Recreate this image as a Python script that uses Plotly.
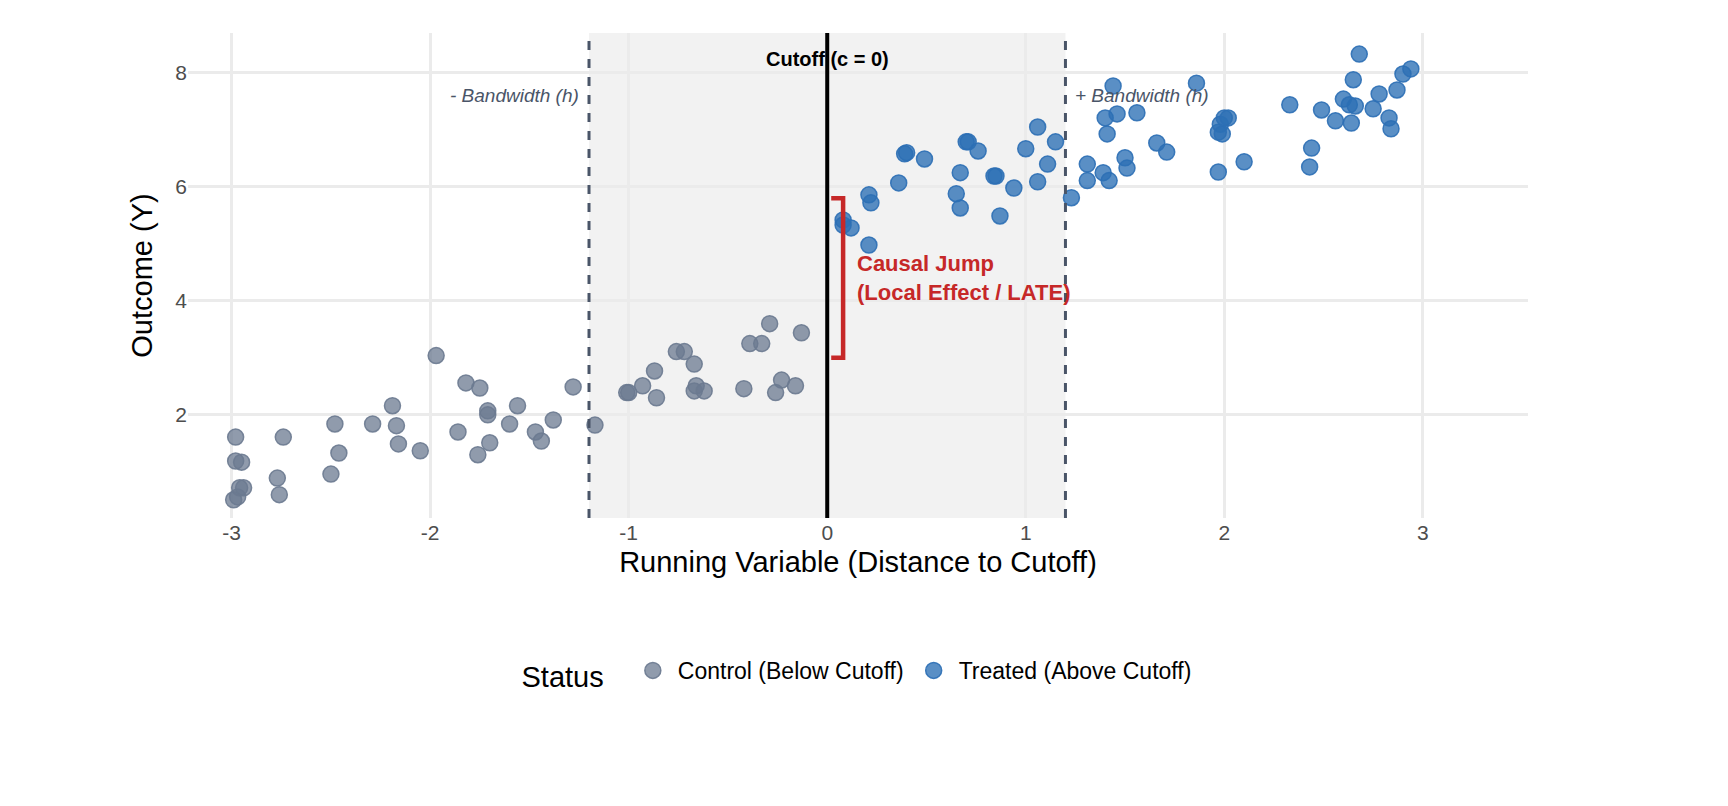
import plotly.graph_objects as go

ctrl_x = [-2.98,-2.98,-2.97,-2.99,-2.96,-2.95,-2.94,-2.77,-2.76,-2.74,-2.50,-2.48,-2.46,-2.29,-2.19,-2.17,-2.16,-2.05,-1.97,-1.86,-1.82,-1.76,-1.75,-1.71,-1.71,-1.70,-1.60,-1.56,-1.47,-1.44,-1.38,-1.28,-1.17,-1.01,-1.00,-0.93,-0.86,-0.87,-0.76,-0.72,-0.67,-0.66,-0.67,-0.62,-0.42,-0.39,-0.33,-0.29,-0.26,-0.23,-0.16,-0.13]
ctrl_y = [1.61,1.19,0.56,0.51,0.72,1.17,0.72,0.89,0.60,1.61,0.96,1.84,1.33,1.84,2.16,1.81,1.49,1.37,3.04,1.70,2.56,1.30,2.47,2.07,2.00,1.51,1.84,2.16,1.70,1.54,1.91,2.49,1.82,2.39,2.39,2.51,2.30,2.77,3.11,3.11,2.89,2.51,2.42,2.42,2.46,3.25,3.25,3.60,2.39,2.61,2.51,3.44]

trt_x = [0.08,0.08,0.12,0.21,0.21,0.22,0.36,0.39,0.40,0.49,0.65,0.67,0.67,0.70,0.71,0.76,0.84,0.85,0.87,0.94,1.00,1.06,1.06,1.11,1.15,1.23,1.31,1.31,1.39,1.40,1.41,1.42,1.44,1.46,1.50,1.51,1.56,1.66,1.71,1.86,1.97,1.97,1.98,1.99,2.00,2.02,2.10,2.33,2.43,2.44,2.49,2.56,2.60,2.63,2.64,2.65,2.66,2.68,2.75,2.78,2.83,2.84,2.87,2.90,2.94]
trt_y = [5.42,5.33,5.28,4.98,5.86,5.72,6.07,6.58,6.60,6.49,5.88,5.63,6.25,6.79,6.79,6.63,6.19,6.19,5.49,5.98,6.67,7.05,6.09,6.40,6.79,5.81,6.11,6.40,6.25,7.21,6.93,6.11,7.77,7.28,6.51,6.33,7.30,6.77,6.61,7.82,6.96,6.26,7.10,6.93,7.21,7.21,6.44,7.44,6.35,6.68,7.35,7.16,7.54,7.44,7.12,7.88,7.42,8.33,7.37,7.63,7.21,7.02,7.70,7.98,8.07]

x_ticks = [-3, -2, -1, 0, 1, 2, 3]
x_labels = ["-3", "-2", "-1", "0", "1", "2", "3"]
y_ticks = [2, 4, 6, 8]

h = 1.2
fig = go.Figure()
fig.add_shape(type="rect", x0=-h, x1=h, y0=0, y1=1, yref="paper", fillcolor="#f2f2f2", line_width=0, layer="below")
for xv in (-h, h):
    fig.add_shape(type="line", x0=xv, x1=xv, y0=0, y1=1, yref="paper", line=dict(color="#4a5568", width=3, dash="dash"))
fig.add_shape(type="line", x0=0, x1=0, y0=0, y1=1, yref="paper", line=dict(color="black", width=4))

fig.add_trace(go.Scatter(x=ctrl_x, y=ctrl_y, mode="markers", name="Control (Below Cutoff)",
    marker=dict(size=16, color="rgba(107,122,144,0.75)", line=dict(width=1.5, color="rgba(107,122,144,0.9)"))))
fig.add_trace(go.Scatter(x=trt_x, y=trt_y, mode="markers", name="Treated (Above Cutoff)",
    marker=dict(size=16, color="rgba(44,111,181,0.78)", line=dict(width=1.5, color="rgba(44,111,181,0.9)"))))

red = "#c62828"
fig.add_shape(type="path", path="M 0.02 5.8 L 0.08 5.8 L 0.08 3.0 L 0.02 3.0", line=dict(color=red, width=4.5))
fig.add_annotation(x=0.14, y=4.4, text="<b>Causal Jump<br>(Local Effect / LATE)</b>", showarrow=False,
    xanchor="left", align="left", font=dict(color=red, size=22, family="Liberation Sans"))
fig.add_annotation(x=0, y=8.25, text="<b>Cutoff (c = 0)</b>", showarrow=False, font=dict(size=20, color="black", family="Liberation Sans"))
fig.add_annotation(x=-h-0.04, y=7.6, text="<i>- Bandwidth (h)</i>", showarrow=False, xanchor="right", font=dict(size=19, color="#4a5568", family="Liberation Sans"))
fig.add_annotation(x=h+0.04, y=7.6, text="<i>+ Bandwidth (h)</i>", showarrow=False, xanchor="left", font=dict(size=19, color="#4a5568", family="Liberation Sans"))

fig.update_layout(
    width=1728, height=806, plot_bgcolor="white", paper_bgcolor="white",
    margin=dict(l=180, r=208, t=25, b=296),
    font=dict(family="Liberation Sans", size=20, color="#4d4d4d"),
    xaxis=dict(range=[-3.22, 3.53], tickvals=x_ticks, ticktext=x_labels, showgrid=True, gridcolor="#ebebeb", gridwidth=2.5,
               zeroline=False, title=dict(text="Running Variable (Distance to Cutoff)", font=dict(size=29, color="black"), standoff=8),
               ticks="", tickfont=dict(size=21, color="#4d4d4d")),
    yaxis=dict(range=[0.19, 8.7], tickvals=y_ticks, showgrid=True, gridcolor="#ebebeb", gridwidth=2.5,
               zeroline=False, title=dict(text="Outcome (Y)", font=dict(size=29, color="black"), standoff=14),
               ticks="", tickfont=dict(size=21, color="#4d4d4d")),
    legend=dict(orientation="h", x=0.5, xanchor="center", y=-0.27, yanchor="top",
                title=dict(text="Status  ", font=dict(size=29, color="black")),
                font=dict(size=23, color="black"), itemwidth=40),
)
fig.write_html("out.html")
